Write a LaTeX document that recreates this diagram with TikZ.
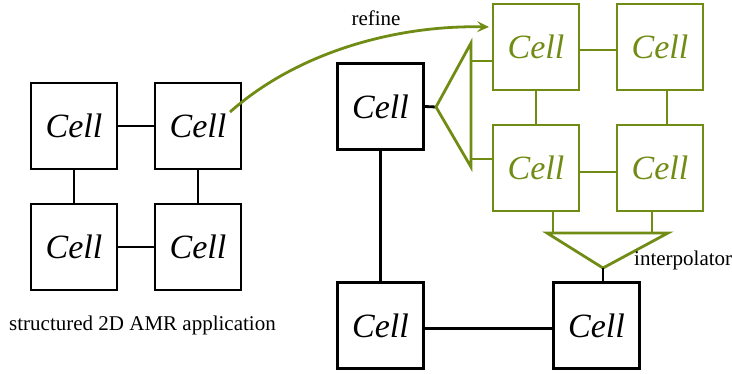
\documentclass[tikz,border=0pt]{standalone}
\usepackage{fontspec}
\setmainfont{Liberation Serif}
\usetikzlibrary{arrows.meta}
\definecolor{olive}{RGB}{112,140,20}
\tikzset{
  cell/.style={draw, line width=2.8pt, minimum width=86pt, minimum height=86pt, inner sep=0pt,
    font=\fontsize{34}{40}\selectfont\itshape},
  gcell/.style={cell, draw=olive, text=olive},
  bl/.style={line width=2.8pt, black},
  gl/.style={line width=2.8pt, olive},
  lbl/.style={font=\fontsize{21}{25}\selectfont, inner sep=0pt}
}
\begin{document}
\begin{tikzpicture}[x=1pt,y=-1pt]
\useasboundingbox (0,0) rectangle (732,374);
% left grid
\node[cell] (lTL) at (74,126) {Cell};
\node[cell] (lTR) at (198,126) {Cell};
\node[cell] (lBL) at (74,247) {Cell};
\node[cell] (lBR) at (198,247) {Cell};
\draw[bl] (lTL.east) -- (lTR.west);
\draw[bl] (lBL.east) -- (lBR.west);
\draw[bl] (lTL.south) -- (lBL.north);
\draw[bl] (lTR.south) -- (lBR.north);
\node[lbl, anchor=base west] (app) at (9,331) {structured 2D AMR application};
% right
\node[cell] (big) at (380.5,106.5) {Cell};
\node[gcell] (gTL) at (536,47) {Cell};
\node[gcell] (gTR) at (660,47) {Cell};
\node[gcell] (gBL) at (536,168) {Cell};
\node[gcell] (gBR) at (660,168) {Cell};
\node[cell] (cBL) at (380.5,325.5) {Cell};
\node[cell] (cBR) at (596.5,325.5) {Cell};
% green links
\draw[gl] ([yshift=-3pt]gTL.east) -- ([yshift=-3pt]gTR.west);
\draw[gl] ([yshift=-4pt]gBL.east) -- ([yshift=-4pt]gBR.west);
\draw[gl] (gTL.south) -- (gBL.north);
\draw[gl] ([xshift=7pt]gTR.south) -- ([xshift=7pt]gBR.north);
% splitter
\coordinate (sp) at (436,107);
\coordinate (sT) at (471,43);
\coordinate (sB) at (471,167);
\coordinate (s1) at (471,61);
\coordinate (s2) at (471,159);
\draw[bl] (big.east) -- (sp);
\draw[gl, line join=miter] (sT) -- (sp) -- (sB) -- cycle;
\draw[gl] (s1) -- (s1 -| gTL.west);
\draw[gl] (s2) -- (s2 -| gBL.west);
% interpolator
\coordinate (iL) at (547,233);
\coordinate (iR) at (668,233);
\coordinate (ip) at (603,268);
\coordinate (i1) at (553,233);
\coordinate (i2) at (652,233);
\draw[gl] (i1 |- gBL.south) -- (i1);
\draw[gl] (i2 |- gBR.south) -- (i2);
\draw[gl, line join=miter] (iL) -- (iR) -- (ip) -- cycle;
\draw[bl] (ip) -- (ip |- cBR.north);
\node[lbl, anchor=base west] (interp) at (634,266) {interpolator};
% bottom links
\draw[bl] (big.south) -- (cBL.north);
\draw[bl] ([yshift=-3pt]cBL.east) -- ([yshift=-3pt]cBR.west);
% refine arrow
\coordinate (rs) at (230,112);
\coordinate (re) at (489,27);
\draw[gl, -{Stealth[length=12pt,width=11pt,inset=5pt]}] (rs) .. controls (300,50) and (400,25) .. (re);
\node[lbl, anchor=base] (ref) at (376,26) {refine};
\end{tikzpicture}
\end{document}
